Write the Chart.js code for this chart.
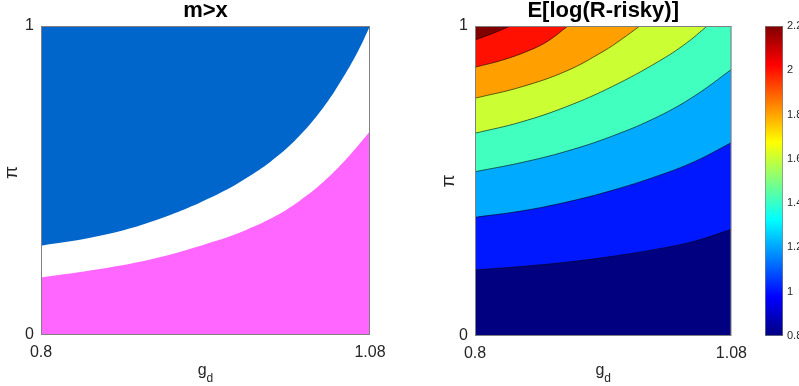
<!DOCTYPE html>
<html>
<head>
<meta charset="utf-8">
<script src="https://cdn.jsdelivr.net/npm/chart.js@4.4.1/dist/chart.umd.min.js"></script>
<style>
    body { margin: 0; background: #fff; width: 799px; height: 386px; overflow: hidden; position: relative; }
    canvas { position: absolute; top: 0; }
    #leftChart { left: 0; }
    #rightChart { left: 400px; }
    #barChart { left: 755px; }
</style>
</head>
<body>
<canvas id="leftChart" width="400" height="386"></canvas>
<canvas id="rightChart" width="355" height="386"></canvas>
<canvas id="barChart" width="44" height="386"></canvas>
<script>
const gTicks = [0.8, 1.08];
const piTicks = [0, 1];
const barTicks = [0.8, 1, 1.2, 1.4, 1.6, 1.8, 2, 2.2];

// m>x : lower edge of the blue region, upper edge of the pink region
const blueG  = [0.8, 0.85, 0.9, 0.95, 0.98, 1.0, 1.02, 1.04, 1.055, 1.07, 1.08];
const bluePi = [0.289, 0.321, 0.375, 0.455, 0.52, 0.575, 0.645, 0.735, 0.82, 0.92, 1.0];
const pinkG  = [0.8, 0.85, 0.9, 0.95, 0.975, 1.0, 1.02, 1.04, 1.06, 1.08];
const pinkPi = [0.186, 0.2135, 0.251, 0.306, 0.341, 0.386, 0.434, 0.494, 0.57, 0.659];

// E[log(R-risky)] : contour levels and where each level line runs
const levels = [0.8, 1.0, 1.2, 1.4, 1.6, 1.8, 2.0, 2.2];
const levelColors = ['#000080', '#0018ff', '#00aaff', '#40ffbf', '#ccff33', '#ff9f00', '#ff1000', '#800000'];
const lineG = [
    [0.8, 1.08],
    [0.8, 0.85, 0.9, 0.95, 1.0, 1.04, 1.08],
    [0.8, 0.85, 0.9, 0.95, 1.0, 1.04, 1.08],
    [0.8, 0.85, 0.9, 0.95, 1.0, 1.04, 1.08],
    [0.8, 0.85, 0.9, 0.95, 1.0, 1.03, 1.0535],
    [0.8, 0.85, 0.9, 0.94, 0.96, 0.98],
    [0.8, 0.83, 0.86, 0.88, 0.9014],
    [0.8, 0.82, 0.8385]
];
const linePi = [
    [0, 0],
    [0.213, 0.224, 0.238, 0.257, 0.281, 0.306, 0.344],
    [0.383, 0.403, 0.432, 0.47, 0.517, 0.563, 0.624],
    [0.53, 0.559, 0.596, 0.645, 0.708, 0.775, 0.86],
    [0.654, 0.69, 0.74, 0.805, 0.885, 0.943, 1.0],
    [0.767, 0.803, 0.855, 0.918, 0.957, 1.0],
    [0.867, 0.89, 0.922, 0.952, 1.0],
    [0.955, 0.977, 1.0]
];

const FONT = '"Liberation Sans", Arial, Helvetica, sans-serif';
const TXT = '#262626';

function xy(gs, ps) {
    return gs.map((g, i) => ({ x: g, y: ps[i] }));
}

// grey box round the plot and the g_d / pi axis labels
const framePlugin = {
    id: 'frame',
    afterDatasetsDraw(chart) {
        const { ctx, chartArea: a } = chart;
        ctx.save();
        ctx.strokeStyle = '#808080';
        ctx.lineWidth = 1;
        ctx.strokeRect(a.left + 0.5, a.top + 0.5, a.right - a.left - 1, a.bottom - a.top - 1);
        ctx.restore();
    },
    afterDraw(chart, args, opts) {
        if (!opts.piX) return;
        const { ctx, chartArea: a } = chart;
        ctx.save();
        ctx.fillStyle = TXT;
        ctx.textAlign = 'left';
        ctx.textBaseline = 'alphabetic';
        ctx.font = '16px ' + FONT;
        const gw = ctx.measureText('g').width;
        ctx.font = '12px ' + FONT;
        const dw = ctx.measureText('d').width;
        const x0 = (a.left + a.right) / 2 - (gw + dw) / 2;
        ctx.font = '16px ' + FONT;
        ctx.fillText('g', x0, 375);
        ctx.font = '12px ' + FONT;
        ctx.fillText('d', x0 + gw, 382);

        ctx.translate(opts.piX, opts.piY);
        ctx.rotate(-Math.PI / 2);
        ctx.font = '19px ' + FONT;
        ctx.textAlign = 'center';
        ctx.textBaseline = 'middle';
        ctx.fillText('\u03c0', 0, 0);
        ctx.restore();
    }
};

function panelOptions(title, padRight, yWidth, xHeight, piX, piY) {
    return {
        responsive: false,
        animation: false,
        events: [],
        layout: { padding: { left: 0, right: padRight, top: 0, bottom: 0 } },
        plugins: {
            legend: { display: false },
            tooltip: { enabled: false },
            title: {
                display: true, text: title, fullSize: false, color: '#000',
                font: { family: FONT, size: 22, weight: 'bold', lineHeight: 1 },
                padding: { top: 0, bottom: 4 }
            },
            frame: { piX: piX, piY: piY }
        },
        scales: {
            x: {
                type: 'linear', min: gTicks[0], max: gTicks[gTicks.length - 1],
                grid: { display: false, drawTicks: false },
                border: { display: false },
                afterBuildTicks: s => { s.ticks = gTicks.map(v => ({ value: v })); },
                afterFit: s => { s.height = xHeight; },
                ticks: {
                    color: TXT, font: { family: FONT, size: 16 }, padding: 8,
                    maxRotation: 0, autoSkip: false, callback: v => String(v)
                }
            },
            y: {
                type: 'linear', min: piTicks[0], max: piTicks[piTicks.length - 1],
                grid: { display: false, drawTicks: false },
                border: { display: false },
                afterBuildTicks: s => { s.ticks = piTicks.map(v => ({ value: v })); },
                afterFit: s => { s.width = yWidth; },
                ticks: { color: TXT, font: { family: FONT, size: 16 }, padding: 7, callback: v => String(v) }
            }
        }
    };
}

function initLeft() {
    const ctx = document.getElementById('leftChart').getContext('2d');
    new Chart(ctx, {
        type: 'line',
        data: {
            datasets: [
                {
                    data: xy(blueG, bluePi), fill: 'end',
                    backgroundColor: '#0066cc', borderWidth: 0, pointRadius: 0, tension: 0.4
                },
                {
                    data: xy(pinkG, pinkPi), fill: 'start',
                    backgroundColor: '#ff66ff', borderWidth: 0, pointRadius: 0, tension: 0.4
                }
            ]
        },
        options: panelOptions('m>x', 30, 41, 51, 12, 172.5),
        plugins: [framePlugin]
    });
}

function initRight() {
    const ctx = document.getElementById('rightChart').getContext('2d');
    // highest level first so it is painted last, on top
    const sets = [];
    for (let i = levels.length - 1; i >= 0; i--) {
        sets.push({
            data: xy(lineG[i], linePi[i]), fill: 'end',
            backgroundColor: levelColors[i],
            borderColor: 'rgba(0,0,0,0.85)', borderWidth: i === 0 ? 0 : 0.7,
            pointRadius: 0, tension: 0.4
        });
    }
    new Chart(ctx, {
        type: 'line',
        data: { datasets: sets },
        options: panelOptions('E[log(R-risky)]', 13, 75, 50, 48.5, 181),
        plugins: [framePlugin]
    });
}

function initBar() {
    const ctx = document.getElementById('barChart').getContext('2d');
    new Chart(ctx, {
        type: 'bar',
        data: {
            labels: [''],
            datasets: [{
                data: [[barTicks[0], barTicks[barTicks.length - 1]]],
                borderColor: '#808080', borderWidth: 1, borderSkipped: false,
                barPercentage: 1, categoryPercentage: 1,
                backgroundColor: c => {
                    const a = c.chart.chartArea;
                    if (!a) return '#000080';
                    const g = c.chart.ctx.createLinearGradient(0, a.bottom, 0, a.top);
                    g.addColorStop(0, '#000080');
                    g.addColorStop(0.125, '#0000ff');
                    g.addColorStop(0.375, '#00ffff');
                    g.addColorStop(0.625, '#ffff00');
                    g.addColorStop(0.875, '#ff0000');
                    g.addColorStop(1, '#800000');
                    return g;
                }
            }]
        },
        options: {
            responsive: false,
            animation: false,
            events: [],
            layout: { padding: { left: 10, right: 0, top: 26, bottom: 50 } },
            plugins: { legend: { display: false }, tooltip: { enabled: false } },
            scales: {
                x: { display: false },
                y: {
                    position: 'right', min: barTicks[0], max: barTicks[barTicks.length - 1],
                    grid: { display: false, drawTicks: false },
                    border: { display: false },
                    afterBuildTicks: s => { s.ticks = barTicks.map(v => ({ value: v })); },
                    afterFit: s => { s.width = 16; },
                    ticks: { color: TXT, font: { family: FONT, size: 11 }, padding: 4, callback: v => String(v) }
                }
            }
        }
    });
}

initLeft();
initRight();
initBar();
</script>
</body>
</html>
